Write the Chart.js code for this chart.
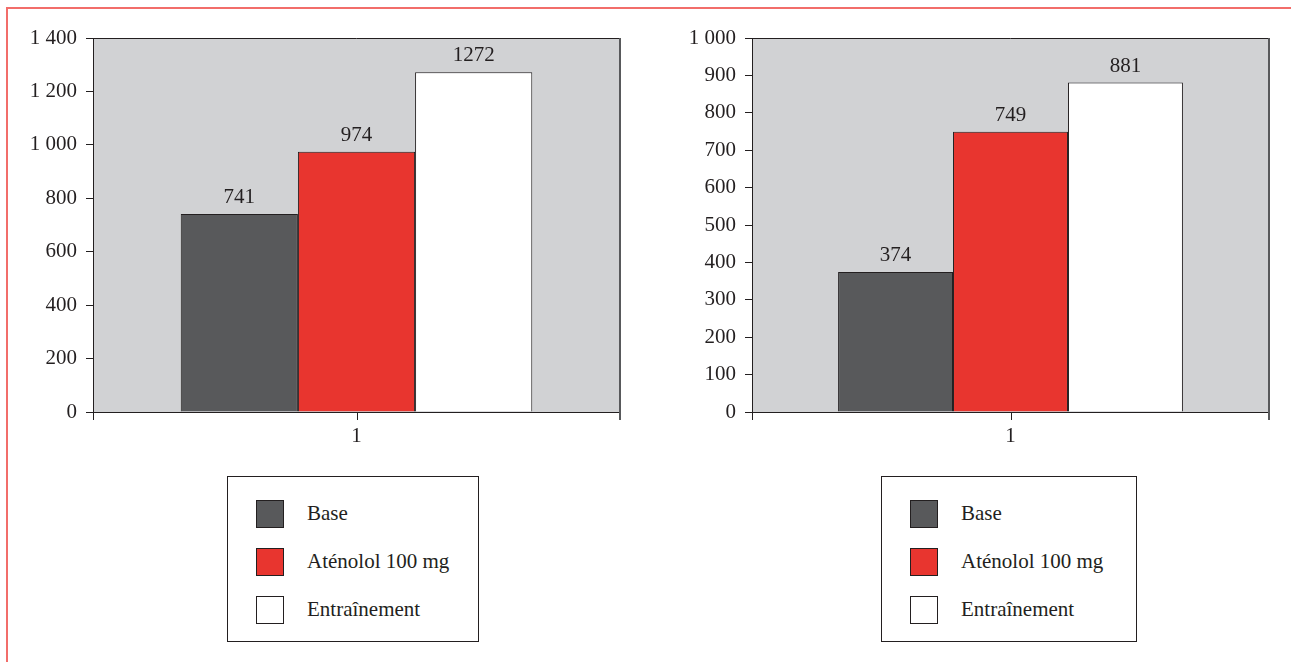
<!DOCTYPE html>
<html>
<head>
<meta charset="utf-8">
<script src="https://cdn.jsdelivr.net/npm/chart.js@4"></script>
<style>
  body { margin: 0; background: #fff; width: 1291px; height: 662px; overflow: hidden; font-family: "Liberation Serif", serif; }
  .frame { position: absolute; left: 6px; top: 7px; right: -10px; bottom: -10px; border-top: 2px solid #f26d6a; border-left: 2px solid #f26d6a; }
  .box { position: absolute; }
  .legend { position: absolute; border: 1px solid #231f20; background: #fff; width: 252px; height: 166px; box-sizing: border-box; }
  .legend .item { position: absolute; left: 28px; height: 29px; display: flex; align-items: center; font-size: 21px; color: #231f20; }
  .legend .sw { width: 28px; height: 28px; border: 1px solid #231f20; box-sizing: border-box; margin-right: 23px; }
</style>
</head>
<body>
<div class="frame"></div>
<div class="box" style="left:0;top:0;width:640px;height:460px"><canvas id="chartLeft"></canvas></div>
<div class="box" style="left:640px;top:0;width:651px;height:460px"><canvas id="chartRight"></canvas></div>
<div class="legend" id="legendLeft" style="left:227px;top:476px"></div>
<div class="legend" id="legendRight" style="left:881px;top:476px;width:256px"></div>
<script>
// séries
const categories = ['1'];
const seriesNames = ['Base', 'Aténolol 100 mg', 'Entraînement'];
const seriesColors = ['#58595b', '#e8352f', '#ffffff'];
const leftValues = [741, 974, 1272];
const rightValues = [374, 749, 881];
const leftTicks = { max: 1400, step: 200 };
const rightTicks = { max: 1000, step: 100 };

const ink = '#231f20';
const fontSpec = { family: '"Liberation Serif", "Times New Roman", serif', size: 21 };

// 1 400, 1 000 ...
function fmt(v) {
  return String(v).replace(/\B(?=(\d{3})+(?!\d))/g, ' ');
}

// fond gris + cadre + graduations de l'axe x + étiquettes des barres
const plotDecor = {
  id: 'plotDecor',
  beforeDraw(chart) {
    const { ctx, chartArea: a } = chart;
    ctx.save();
    ctx.fillStyle = '#d1d2d4';
    ctx.fillRect(a.left, a.top, a.right - a.left, a.bottom - a.top);
    ctx.restore();
  },
  afterDatasetsDraw(chart) {
    const { ctx, chartArea: a } = chart;
    ctx.save();
    ctx.strokeStyle = ink;
    ctx.lineWidth = 1;
    ctx.beginPath();
    ctx.moveTo(a.left, a.top + 0.5);
    ctx.lineTo(a.right, a.top + 0.5);
    ctx.stroke();
    ctx.strokeStyle = '#58595b';
    ctx.lineWidth = 2;
    ctx.beginPath();
    ctx.moveTo(a.right, a.top);
    ctx.lineTo(a.right, a.bottom + 8);
    ctx.stroke();
    ctx.strokeStyle = ink;
    ctx.lineWidth = 1;
    [a.left, (a.left + a.right) / 2].forEach(x => {
      ctx.beginPath();
      ctx.moveTo(Math.round(x) + 0.5, a.bottom);
      ctx.lineTo(Math.round(x) + 0.5, a.bottom + 8);
      ctx.stroke();
    });
    ctx.fillStyle = ink;
    ctx.font = fontSpec.size + 'px ' + fontSpec.family;
    ctx.textAlign = 'center';
    ctx.textBaseline = 'alphabetic';
    chart.data.datasets.forEach((ds, i) => {
      chart.getDatasetMeta(i).data.forEach((bar, j) => {
        ctx.fillText(String(ds.data[j]), bar.x, bar.y - 11);
      });
    });
    ctx.restore();
  }
};

function makeChart(id, values, ticks, axisWidth, padRight) {
  const ctx = document.getElementById(id).getContext('2d');
  return new Chart(ctx, {
    type: 'bar',
    data: {
      labels: categories,
      datasets: seriesNames.map((name, i) => ({
        label: name,
        data: [values[i]],
        backgroundColor: seriesColors[i],
        borderColor: ink,
        borderWidth: 1,
        borderSkipped: 'bottom',
        categoryPercentage: 0.667,
        barPercentage: 1
      }))
    },
    options: {
      responsive: true,
      maintainAspectRatio: false,
      animation: false,
      layout: { padding: { top: 38, right: padRight, bottom: 0, left: 0 } },
      scales: {
        x: {
          grid: { display: false },
          border: { display: true, color: ink, width: 1 },
          ticks: { color: ink, font: fontSpec, padding: 4 },
          afterFit: s => { s.height = 48; }
        },
        y: {
          min: 0,
          max: ticks.max,
          grid: { drawOnChartArea: false, drawTicks: true, tickLength: 7, color: ink },
          border: { display: true, color: ink, width: 1 },
          ticks: { stepSize: ticks.step, color: ink, font: fontSpec, padding: 9, callback: v => fmt(v) },
          afterFit: s => { s.width = axisWidth; }
        }
      },
      plugins: {
        legend: { display: false },
        tooltip: { enabled: false }
      }
    },
    plugins: [plotDecor]
  });
}

makeChart('chartLeft', leftValues, leftTicks, 93, 20);
makeChart('chartRight', rightValues, rightTicks, 112, 22);

// légendes encadrées
function buildLegend(id) {
  const box = document.getElementById(id);
  seriesNames.forEach((name, i) => {
    const item = document.createElement('div');
    item.className = 'item';
    item.style.top = (22 + i * 48) + 'px';
    const sw = document.createElement('span');
    sw.className = 'sw';
    sw.style.background = seriesColors[i];
    item.appendChild(sw);
    item.appendChild(document.createTextNode(name));
    box.appendChild(item);
  });
}
buildLegend('legendLeft');
buildLegend('legendRight');
</script>
</body>
</html>
